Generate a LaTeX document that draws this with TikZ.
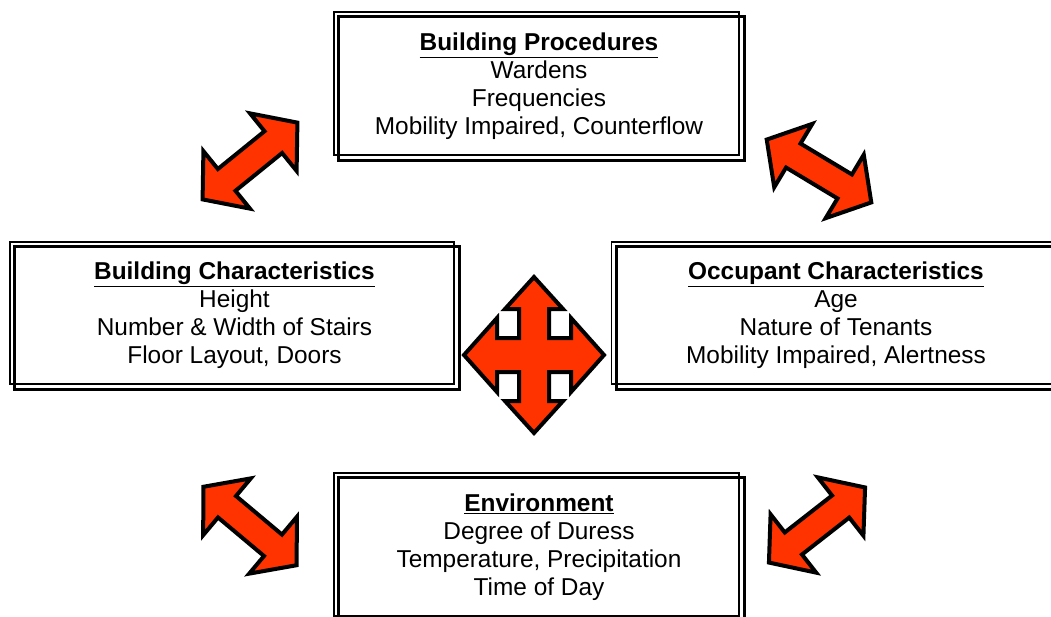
\documentclass[tikz,border=0pt]{standalone}
\usepackage{fontspec}
\setmainfont{Liberation Sans}
\definecolor{arrowred}{HTML}{FF3300}

\begin{document}
\begin{tikzpicture}[
            x = 1pt, y = -1pt, % pixel grid, y downwards
            box/.style = {shape=rectangle, align=center, inner sep=0pt,
                          minimum width=405pt, minimum height=143pt,
                          font=\fontsize{24.4}{28}\selectfont},
            thin frame/.style = {line width=1.5pt},
            thick frame/.style = {line width=2.8pt},
            arrowshape/.style = {fill=arrowred, draw=black, line width=4pt, line join=miter},
            twoway/.pic = {
                \path[arrowshape] (61,0) -- (30,37) -- (30,14) -- (-30,14) -- (-30,37)
                    -- (-61,0) -- (-30,-37) -- (-30,-14) -- (30,-14) -- (30,-37) -- cycle;
            }
        ]
        \useasboundingbox (0,0) rectangle (1051,616);
        \clip (0,0) rectangle (1051,616);

        \node[box] (proc) at (539,86)
            {\underline{\textbf{Building Procedures}}\\ Wardens\\ Frequencies\\ Mobility Impaired, Counterflow};
        \node[box, minimum width=444pt, minimum height=142pt] (build) at (234.5,315.5)
            {\underline{\textbf{Building Characteristics}}\\ Height\\ Number \& Width of Stairs\\ Floor Layout, Doors};
        \node[box, minimum width=444pt, minimum height=142pt] (occ) at (836,315.5)
            {\underline{\textbf{Occupant Characteristics}}\\ Age\\ Nature of Tenants\\ Mobility Impaired, Alertness};
        \node[box] (env) at (539,547)
            {\underline{\textbf{Environment}}\\ Degree of Duress\\ Temperature, Precipitation\\ Time of Day};

        % double frames, thick one offset down right
        \foreach \n in {proc,build,occ,env} {
            \draw[thin frame] ([shift={(-2.5,-2.5)}]\n.north west) rectangle ([shift={(-2.5,-2.5)}]\n.south east);
            \draw[thick frame] ([shift={(2.5,2.5)}]\n.north west) rectangle ([shift={(2.5,2.5)}]\n.south east);
        }

        % two-way arrows between the boxes
        \pic[rotate=39]  at (250,161) {twoway};
        \pic[rotate=-31] at (819,171) {twoway};
        \pic[rotate=-40] at (250,526) {twoway};
        \pic[rotate=38]  at (817,525) {twoway};

        % four-way arrow in the middle
        \path[arrowshape] (534,355)
            ++(0,-78) -- ++(29,32) -- ++(-14,0) -- ++(0,29) -- ++(22,0) -- ++(0,-20)
            -- ++(33,37) -- ++(-33,37) -- ++(0,-20) -- ++(-22,0) -- ++(0,29) -- ++(14,0)
            -- ++(-29,32) -- ++(-29,-32) -- ++(14,0) -- ++(0,-29) -- ++(-22,0) -- ++(0,20)
            -- ++(-33,-37) -- ++(33,-37) -- ++(0,20) -- ++(22,0) -- ++(0,-29) -- ++(-14,0) -- cycle;
    \end{tikzpicture}
\end{document}
